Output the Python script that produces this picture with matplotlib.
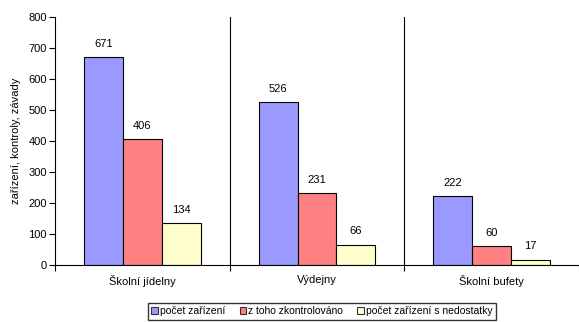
import numpy as np
import matplotlib.pyplot as plt
from matplotlib.patches import Patch

# data
categories = ['Školní jídelny', 'Výdejny', 'Školní bufety']
pocet = [671, 526, 222]
zkontrolovano = [406, 231, 60]
nedostatky = [134, 66, 17]
series_names = ['počet zařízení', 'z toho zkontrolováno', 'počet zařízení s nedostatky']
colors = ['#9999FF', '#FF8080', '#FFFFCC']

plt.rcParams['font.family'] = ['Liberation Sans', 'DejaVu Sans']
plt.rcParams['font.size'] = 8

fig = plt.figure(figsize=(5.79, 3.22), dpi=100)
ax = fig.add_axes([0.095, 0.177, 0.905, 0.770])

x = np.arange(len(categories)) + 0.5
w = 0.223
for k, vals in enumerate([pocet, zkontrolovano, nedostatky]):
    bars = ax.bar(x + (k - 1) * w, vals, w, color=colors[k], edgecolor='black', linewidth=0.8)
    for b, v in zip(bars, vals):
        ax.text(b.get_x() + b.get_width() / 2, v + 27, str(v), ha='center', va='bottom')

# category separators
for xs in [1, 2]:
    ax.axvline(xs, color='black', linewidth=0.8)

ax.set_xlim(0, 3)
ax.set_ylim(0, 800)
ax.set_yticks(range(0, 801, 100))
ax.set_xticks([0, 1, 2, 3])
ax.set_xticklabels([])
ax.set_xticks(x, minor=True)
ax.set_xticklabels(categories, minor=True)
ax.tick_params(axis='x', which='minor', length=0, pad=7)
ax.tick_params(axis='x', which='major', length=4, width=0.8)
ax.tick_params(axis='y', length=4, width=0.8, pad=2)
ax.set_ylabel('zařízení, kontroly, závady')
ax.yaxis.set_label_coords(-0.064, 0.5)
for s in ['top', 'right']:
    ax.spines[s].set_visible(False)
ax.spines['left'].set_linewidth(0.8)
ax.spines['bottom'].set_linewidth(0.8)

handles = [Patch(facecolor=c, edgecolor='#333333', linewidth=0.8) for c in colors]
fig.legend(handles, series_names, loc='center', bbox_to_anchor=(0.556, 0.033), ncol=3,
           fontsize=7.5, frameon=True, fancybox=False, edgecolor='black', handlelength=0.6,
           handleheight=0.6, handletextpad=0.2, columnspacing=1.4, borderpad=0.35)

fig.savefig('out.png', dpi=100)
